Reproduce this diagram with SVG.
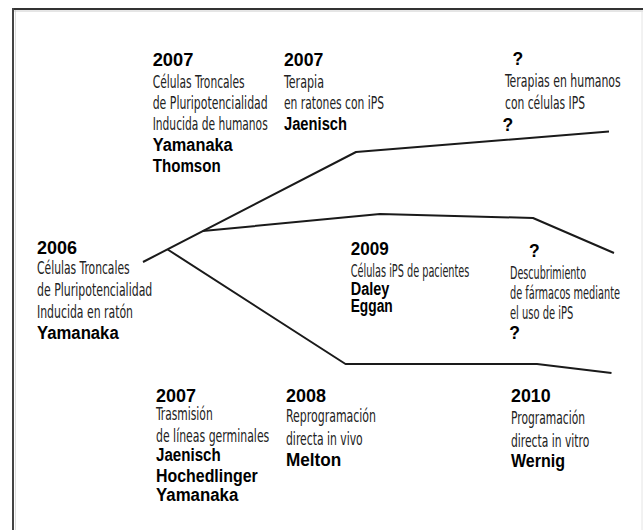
<svg xmlns="http://www.w3.org/2000/svg" width="643" height="530" viewBox="0 0 643 530">
<style>
.r{font-family:"Liberation Sans Narrow","DejaVu Sans Condensed","Liberation Sans",sans-serif;font-size:18px;fill:#222}
.b{font-family:"Liberation Sans","DejaVu Sans",sans-serif;font-weight:bold;font-size:17.5px;fill:#000}
.ln{fill:none;stroke:#1a1a1a;stroke-width:2;stroke-linejoin:round}
</style>
<rect width="643" height="530" fill="#fff"/>
<g id="frame">
<line x1="13" y1="9" x2="643" y2="9" stroke="#333" stroke-width="2"/>
<line x1="13" y1="8" x2="13" y2="530" stroke="#444" stroke-width="2"/>
<line x1="15.5" y1="10" x2="15.5" y2="530" stroke="#ddd" stroke-width="1"/>
<line x1="14" y1="11" x2="643" y2="11" stroke="#ccc" stroke-width="1"/>
<line x1="642" y1="10" x2="642" y2="530" stroke="#e4e4e4" stroke-width="1"/>
</g>
<g id="connectors">
<polyline class="ln" points="143,262 356,152 609,131.5"/>
<polyline class="ln" points="202.7,231 380,214 533,218 614,253"/>
<polyline class="ln" points="167.7,249.5 345.5,364 537,364 611.5,373"/>
</g>
<g id="n2006">
<text class="b" x="37" y="254" textLength="40" lengthAdjust="spacingAndGlyphs">2006</text>
<text class="r" x="37" y="274" textLength="92.7" lengthAdjust="spacingAndGlyphs">Células Troncales</text>
<text class="r" x="37" y="296" textLength="115.3" lengthAdjust="spacingAndGlyphs">de Pluripotencialidad</text>
<text class="r" x="37" y="317.5" textLength="96" lengthAdjust="spacingAndGlyphs">Inducida en ratón</text>
<text class="b" x="37" y="338.5" textLength="81.7" lengthAdjust="spacingAndGlyphs">Yamanaka</text>
</g>
<g id="n2007a">
<text class="b" x="152.7" y="65.5" textLength="40.7" lengthAdjust="spacingAndGlyphs">2007</text>
<text class="r" x="152.7" y="88" textLength="92" lengthAdjust="spacingAndGlyphs">Células Troncales</text>
<text class="r" x="152.7" y="109" textLength="115" lengthAdjust="spacingAndGlyphs">de Pluripotencialidad</text>
<text class="r" x="152.7" y="130" textLength="115" lengthAdjust="spacingAndGlyphs">Inducida de humanos</text>
<text class="b" x="152.7" y="151" textLength="80" lengthAdjust="spacingAndGlyphs">Yamanaka</text>
<text class="b" x="152.7" y="172" textLength="68" lengthAdjust="spacingAndGlyphs">Thomson</text>
</g>
<g id="n2007b">
<text class="b" x="284" y="65.5" textLength="39.3" lengthAdjust="spacingAndGlyphs">2007</text>
<text class="r" x="284" y="88" textLength="40" lengthAdjust="spacingAndGlyphs">Terapia</text>
<text class="r" x="284" y="109" textLength="100" lengthAdjust="spacingAndGlyphs">en ratones con iPS</text>
<text class="b" x="284" y="130" textLength="63" lengthAdjust="spacingAndGlyphs">Jaenisch</text>
</g>
<g id="nTerapias">
<text class="b" x="512.5" y="65">?</text>
<text class="r" x="505" y="87" textLength="115.7" lengthAdjust="spacingAndGlyphs">Terapias en humanos</text>
<text class="r" x="505" y="109" textLength="80" lengthAdjust="spacingAndGlyphs">con células IPS</text>
<text class="b" x="502.5" y="131">?</text>
</g>
<g id="n2009">
<text class="b" x="350.7" y="255" textLength="38" lengthAdjust="spacingAndGlyphs">2009</text>
<text class="r" x="350.7" y="277" textLength="118.7" lengthAdjust="spacingAndGlyphs">Células iPS de pacientes</text>
<text class="b" x="350.7" y="294.5" textLength="38.7" lengthAdjust="spacingAndGlyphs">Daley</text>
<text class="b" x="350.7" y="312" textLength="42" lengthAdjust="spacingAndGlyphs">Eggan</text>
</g>
<g id="nFarmacos">
<text class="b" x="529" y="257">?</text>
<text class="r" x="510" y="278.5" textLength="76" lengthAdjust="spacingAndGlyphs">Descubrimiento</text>
<text class="r" x="510" y="298.5" textLength="110" lengthAdjust="spacingAndGlyphs">de fármacos mediante</text>
<text class="r" x="510" y="318.5" textLength="63.3" lengthAdjust="spacingAndGlyphs">el uso de iPS</text>
<text class="b" x="509.3" y="338.5">?</text>
</g>
<g id="n2007c">
<text class="b" x="156" y="401.5" textLength="40" lengthAdjust="spacingAndGlyphs">2007</text>
<text class="r" x="156" y="420" textLength="56.7" lengthAdjust="spacingAndGlyphs">Trasmisión</text>
<text class="r" x="156" y="442" textLength="113.3" lengthAdjust="spacingAndGlyphs">de líneas germinales</text>
<text class="b" x="156" y="460.5" textLength="64.7" lengthAdjust="spacingAndGlyphs">Jaenisch</text>
<text class="b" x="156" y="481.5" textLength="101.7" lengthAdjust="spacingAndGlyphs">Hochedlinger</text>
<text class="b" x="156" y="501" textLength="82.3" lengthAdjust="spacingAndGlyphs">Yamanaka</text>
</g>
<g id="n2008">
<text class="b" x="286" y="401.5" textLength="40" lengthAdjust="spacingAndGlyphs">2008</text>
<text class="r" x="286" y="422" textLength="90" lengthAdjust="spacingAndGlyphs">Reprogramación</text>
<text class="r" x="286" y="444.5" textLength="76.7" lengthAdjust="spacingAndGlyphs">directa in vivo</text>
<text class="b" x="286" y="465.5" textLength="55.3" lengthAdjust="spacingAndGlyphs">Melton</text>
</g>
<g id="n2010">
<text class="b" x="511" y="401.5" textLength="39.7" lengthAdjust="spacingAndGlyphs">2010</text>
<text class="r" x="511" y="423.5" textLength="74" lengthAdjust="spacingAndGlyphs">Programación</text>
<text class="r" x="511" y="446.5" textLength="78.3" lengthAdjust="spacingAndGlyphs">directa in vitro</text>
<text class="b" x="511" y="467" textLength="54" lengthAdjust="spacingAndGlyphs">Wernig</text>
</g>
</svg>
